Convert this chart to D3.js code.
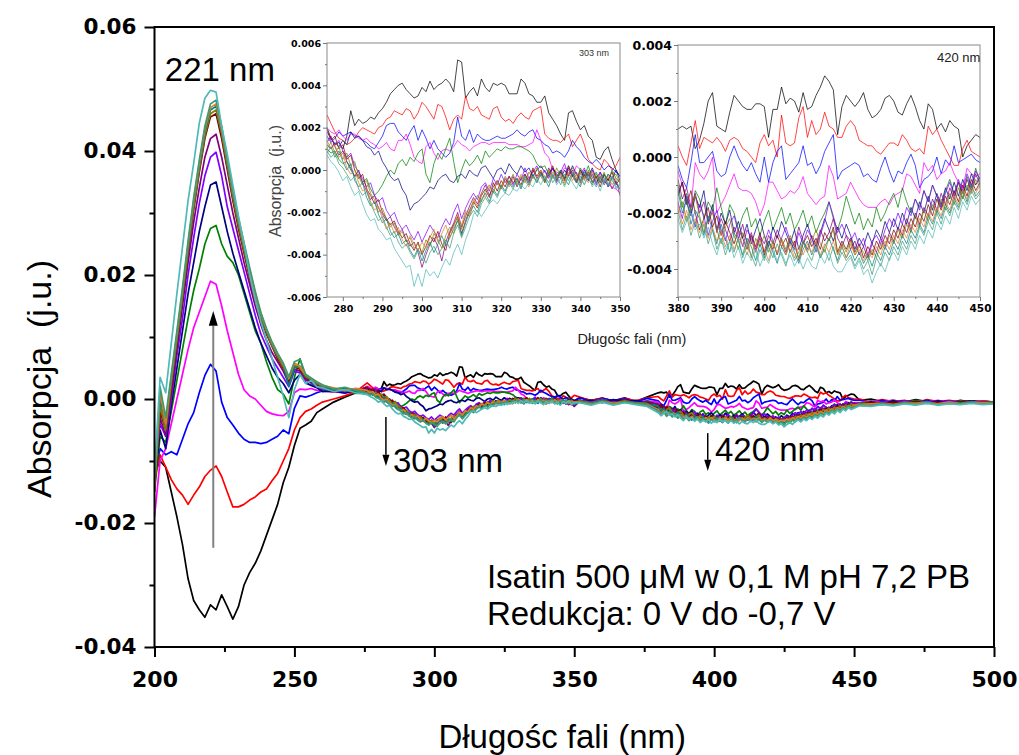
<!DOCTYPE html>
<html><head><meta charset="utf-8">
<script src="https://cdn.jsdelivr.net/npm/d3@7"></script>
<style>body{margin:0;background:#fff}svg{display:block}</style>
</head><body><svg id="c" width="1019" height="755"></svg>
<script>
// ---------- wavelength grid (nm) ----------
const wlA = [200,202,204,206,208,210,212,214,216,218,220,222,224,226,228,230,232,234,236,238,240,242,244,246,248,250,252,254,256,258,260,264,268,272];
const wl303 = d3.range(276, 351, 1);
const wlB = [352,356,360,364,368,372,376];
const wl420 = d3.range(380, 451, 1);
const wlC = [452,456,460,464,468,472,476,480,484,488,492,496,500];
const wavelengths = wlA.concat(wl303, wlB, wl420, wlC);

// ---------- absorbance values, in units of 0.001 (j.u.) ----------
const s01 = [ // black
 -12,-10,-11,-15,-19,-23.5,-29,-32.5,-34,-35.2, -33.2,-34,-31.6,-33.5,-35.5,-33.5,-30,-28,-26.5,-24.5, -22,-19.5,-17,-13.5,-11,-7.5,-4.7,-4.2,-3.6,-2.2, -1.6,-0.5,0.3,1.0,
 2.0,1.5,1.2,1.3,1.0,1.6,2.8,2.1,2.4,2.2, 2.3,2.5,2.4,2.7,2.9,3.2,3.6,3.8,4.0,4.1, 3.8,3.6,3.4,3.5,3.9,3.7,4.2,3.8,4.0,4.1,
 4.3,4.1,3.7,5.2,5.1,3.4,3.7,3.9,3.5,4.3, 3.9,3.7,4.1,4.0,4.1,4.0,3.6,3.6,3.6,4.3, 4.1,3.6,3.5,3.2,3.2,3.5,2.7,2.4,2.1,1.7,
 1.4,2.7,2.8,2.3,1.9,2.1,1.6,1.4,0.6,0.5, 0.9,1.1,0.5,0.0,-0.3,
 0.2,-0.2,0.1,-0.3,0.2,-0.4,0.3,
 1.0,1.1,1.0,1.1,0.3,0.6,1.2,2.0,2.3,1.1, 1.0,0.9,1.6,2.2,2.0,1.8,1.7,1.7,1.9,1.9, 1.8,0.7,1.7,1.7,2.5,1.9,2.1,2.0,1.6,2.3,
 1.7,1.8,2.2,2.5,2.9,2.7,2.4,0.8,1.8,2.2, 2.0,1.8,2.0,2.3,1.7,1.4,1.5,1.7,2.1,2.2, 2.0,1.6,1.5,1.9,2.2,1.8,1.3,1.0,1.9,1.7,
 1.0,1.2,0.9,1.3,1.1,1.0,0.0,0.4,0.6,0.8, 0.7,
 -0.2,0.0,-0.4,-0.2,-0.5,-0.1,-0.4,-0.3,-0.6,-0.2,-0.5,-0.3,-0.5];
const s02 = [ // red
 -13,-9,-11,-13,-14.5,-15.5,-17,-15.5,-14.2,-12.5, -11.5,-10.8,-12.5,-15,-17.4,-17.4,-17,-16.3,-15.8,-15, -14.5,-13.2,-12,-10,-8,-5,-3,-2,-1.6,-1, -0.5,0,0.5,1.2,
 2.6,2.2,1.8,1.5,1.4,1.2,1.3,1.5,1.8,2.0, 1.9,1.8,1.7,2.0,2.1,2.4,2.5,2.8,2.7,2.6, 2.9,2.8,2.4,2.7,3.2,3.0,2.7,2.4,3.1,3.0,
 2.5,1.9,2.4,2.6,2.4,3.5,2.9,2.8,3.0,2.6, 2.5,2.4,2.9,3.0,2.5,2.3,2.4,2.2,2.5,2.7, 2.5,2.4,2.8,2.9,3.0,1.7,1.5,1.4,1.4,1.3,
 1.5,1.7,1.1,1.4,1.7,1.2,0.5,0.3,0.1,0.0, 0.5,0.3,0.0,0.2,0.6,
 0.3,-0.3,0.2,-0.4,0.1,-0.3,0.2,
 0.4,0.0,-0.3,0.5,1.3,0.3,0.7,0.6,0.5,0.7, 0.5,0.2,0.6,0.7,0.6,0.3,0.2,0.0,-0.2,0.5, 0.8,0.4,0.6,0.0,1.5,0.5,0.4,0.5,1.4,1.8,
 0.7,1.3,0.8,1.0,1.6,1.1,1.0,0.7,0.7,1.1, 1.3,1.1,0.6,0.5,0.4,0.4,0.2,0.1,0.3,0.5, 0.5,0.4,0.8,0.6,0.3,0.2,0.3,0.1,1.1,0.8,
 1.0,0.6,0.3,0.0,-0.3,-0.3,0.3,0.6,0.2,0.1, 0.0,
 0.0,-0.5,-0.1,-0.4,-0.2,-0.6,-0.1,-0.4,-0.2,-0.5,-0.3,-0.4,-0.5];
const s03 = [ // blue
 -12,-8,-9,-8.5,-9,-6.5,-4,-2.2,1,3.8, 5.6,4.5,-0.5,-3,-4.2,-5.5,-6.5,-7,-7,-7.2, -7,-6.5,-6,-5,-5.6,-1.5,0.5,0.3,0.6,1.0, 1.3,1.2,1.0,1.3,
 1.6,1.3,1.5,1.8,1.6,1.7,1.8,1.6,1.6,1.4, 1.3,1.1,1.0,1.3,1.6,2.1,2.2,2.2,1.8,1.6, 1.4,1.8,2.1,1.4,1.9,1.5,1.0,1.4,1.0,0.8,
 0.6,0.8,1.3,2.5,1.6,1.4,1.9,1.3,1.7,1.5, 1.4,1.4,1.5,1.6,1.5,1.5,1.6,1.7,1.9,1.7, 1.6,1.8,1.9,1.5,1.4,1.2,1.1,0.8,0.9,0.8,
 0.6,0.9,1.4,1.1,0.9,0.6,0.4,0.3,0.5,0.3, 0.0,0.2,0.1,-0.1,-0.3,
 0.2,-0.4,0.1,-0.3,0.0,-0.5,0.1,
 -0.3,-0.8,-1.1,-0.2,0.8,-0.2,-0.2,0.0,0.2,-0.5, -0.7,-0.6,0.0,0.4,0.0,-0.3,-0.5,-0.2,-0.6,-0.9, 0.0,-0.9,-0.2,0.2,0.4,-0.8,-0.6,-0.4,-0.2,0.4,
 -0.3,-0.2,-0.6,-0.3,0.2,0.5,0.8,-0.8,-0.5,-0.4, -0.3,-0.2,-0.3,-0.7,-0.6,-0.8,-0.9,-0.4,0.0,-0.5, -0.9,-0.5,-0.6,-0.2,0.1,-0.3,-1.1,-0.8,-0.7,-0.5,
 0.0,-0.6,-0.1,-0.3,0.4,-0.2,-0.1,0.0,0.1,-0.1, -0.2,
 -0.2,-0.6,-0.2,-0.5,-0.3,-0.6,-0.2,-0.5,-0.3,-0.6,-0.3,-0.5,-0.6];
const s04 = [ // magenta
 -19,-10,-8,-4,0,4,8,11.5,14,16.5, 19,18.5,15,11,7.5,4,1.5,0.5,0,-1, -2,-2.4,-2.6,-2.7,-2,1,1.6,1.5,1.7,1.4, 1.3,1.1,1.2,1.0,
 2.0,1.8,1.7,1.9,1.6,1.4,1.7,1.7,1.5,1.4, 1.5,1.3,1.2,1.0,1.1,1.3,1.0,0.9,1.4,1.4, 1.7,1.2,0.6,0.4,0.3,1.1,1.3,0.8,0.5,0.9,
 1.0,0.9,1.1,1.4,1.2,1.1,0.9,1.1,1.2,1.3, 1.3,1.2,1.3,1.3,1.3,1.3,1.2,1.2,1.2,1.1, 1.1,1.2,1.3,1.9,1.4,0.8,0.6,0.0,-0.1,-0.2,
 0.1,0.0,-0.3,0.2,0.0,-0.3,-0.2,-0.5,-0.6,-0.4, -0.5,-0.7,-0.8,-0.9,-1.1,
 -0.3,-0.5,-0.1,-0.5,-0.2,-0.6,-0.3,
 -0.5,-1.0,-1.5,-1.8,-0.2,-0.6,-0.8,-0.5,0.0,-2.0, -1.7,-1.4,-1.0,-0.6,-1.1,-1.2,-1.2,-1.3,-1.6,-2.1, -1.7,-0.9,-0.9,-1.2,-1.5,-1.4,-1.2,-1.3,-1.1,-0.7,
 -1.3,-1.5,-1.7,-1.5,-1.4,-0.3,-0.7,-1.5,-1.4,-1.3, -0.9,-1.2,-1.5,-1.7,-1.8,-1.8,-1.8,-1.6,-1.5,-1.7, -1.4,-1.3,-1.2,-0.6,-0.7,-1.0,-1.3,-0.2,-0.5,-0.3,
 -0.8,-0.6,-0.5,-0.2,-0.6,-0.9,-1.1,-0.4,-0.6,-0.7, -0.6,
 -0.6,-0.3,-0.5,-0.2,-0.6,-0.3,-0.5,-0.2,-0.6,-0.4,-0.5,-0.3,-0.6];
const s05 = [ // green
 -15,-6,-7,-2,3,8,13,17.5,21,25, 27.5,28,25,23,22,20,17,14,11,9, 6,3.5,1.5,0.8,-0.8,3.5,6.5,3.5,2.5,2.0, 1.4,1.2,1.5,0.9,
 1.0,0.8,0.9,0.5,0.3,0.4,0.0,-0.3,-0.2,-0.6, -0.4,-0.9,-1.2,-1.0,-0.7,-0.3,0.0,-0.2,0.3,0.5, 0.2,0.6,0.4,0.8,1.0,-0.2,-0.6,0.3,0.8,0.5,
 1.0,1.5,0.4,-0.6,0.0,0.5,0.2,0.4,0.7,0.3, 0.9,0.6,0.8,1.0,0.9,1.1,1.0,1.0,1.1,1.1, 1.0,0.9,0.7,0.3,0.1,0.2,-0.2,0.1,-0.3,0.0,
 -0.4,0.2,-0.2,-0.5,0.1,-0.3,0.2,-0.4,-0.1,-0.6, -0.2,-0.5,0.0,-0.4,-0.6,
 -0.2,-0.5,0.0,-0.6,-0.2,-0.8,-0.3,
 -1.0,-1.8,-1.3,-2.0,-1.2,-1.5,-2.2,-1.6,-1.9,-1.1, -1.8,-2.4,-1.7,-2.0,-2.6,-2.1,-1.8,-2.5,-2.2,-2.8, -2.3,-1.9,-2.6,-2.2,-1.8,-2.4,-2.0,-2.6,-2.3,-1.9,
 -2.5,-2.1,-2.7,-2.3,-2.0,-1.6,-2.2,-2.6,-2.1,-1.4, -1.9,-2.4,-2.0,-2.6,-2.2,-2.5,-1.8,-2.3,-2.0,-1.6, -1.3,-1.8,-1.1,-1.6,-2.0,-1.5,-1.8,-1.2,-1.6,-1.0,
 -1.4,-1.8,-1.2,-0.8,-1.3,-0.9,-1.5,-0.7,-1.1,-0.4, -0.9,
 -0.7,-0.4,-0.7,-0.3,-0.6,-0.2,-0.6,-0.4,-0.7,-0.3,-0.6,-0.4,-0.6];
const s06 = [ // navy
 -14,-5,-8,-1,5,11,17,22,27,31, 34.5,35,31,27,23.5,20.5,17.5,14.5,11.5,9, 7,5,3.5,2.5,1.0,3.0,4.0,2.6,2.2,1.8, 1.2,1.3,1.0,1.4,
 1.2,1.0,1.3,1.1,1.4,1.2,1.8,1.5,1.6,1.4, 1.1,1.0,0.7,0.9,0.4,0.1,-0.3,-0.5,-0.4,-0.9, -1.2,-1.9,-1.6,-1.5,-1.3,-1.1,-0.8,-0.9,-0.5,-0.3,
 -0.2,-0.5,-0.6,-0.3,-0.2,-0.4,0.0,-0.2,-0.3,0.1, 0.2,-0.1,-0.4,0.0,0.1,-0.2,0.3,0.0,-0.2,0.2, -0.1,0.1,-0.3,0.0,0.2,-0.1,-0.3,0.1,-0.2,-0.4,
 0.0,-0.3,0.2,-0.2,-0.5,0.0,-0.3,0.1,-0.4,-0.1, -0.6,-0.2,-0.4,0.0,-0.5,
 -0.5,-0.2,-0.6,-0.1,-0.5,-0.2,-0.7,
 -1.3,-0.9,-1.6,-2.1,-1.4,-1.8,-1.2,-2.3,-1.7,-2.6, -2.0,-2.4,-1.9,-2.7,-2.3,-2.9,-2.4,-3.1,-2.6,-2.2, -2.8,-3.2,-2.5,-2.9,-2.3,-2.7,-3.1,-2.6,-3.3,-2.8,
 -2.4,-2.9,-3.2,-2.7,-2.2,-2.6,-3.0,-2.5,-2.9,-2.4, -2.8,-3.3,-2.9,-3.2,-2.7,-3.1,-2.6,-2.9,-2.3,-2.7, -2.2,-2.6,-2.0,-2.4,-1.8,-2.2,-1.6,-2.0,-1.4,-1.9,
 -1.3,-1.7,-1.1,-1.5,-0.9,-1.4,-0.8,-1.2,-0.6,-1.0, -0.7,
 -1.0,-0.5,-0.8,-0.3,-0.7,-0.4,-0.6,-0.3,-0.6,-0.5,-0.3,-0.6,-0.4];
const s07 = [ // violet
 -12,-4,-6,0,7,13,20,26,31.5,36, 39,39.8,36,31,27.5,24,20.5,17,13.5,10.5, 8.5,6.5,5,3.5,2.0,4.5,4.2,3.0,2.7,2.0, 1.6,1.5,1.2,1.6,
 1.8,1.5,1.2,1.4,0.9,0.6,0.8,0.2,-0.1,-0.4, -0.8,-0.6,-1.2,-1.5,-1.3,-1.9,-2.2,-2.0,-2.5,-2.8, -2.6,-3.0,-3.3,-2.9,-3.4,-3.0,-2.6,-2.9,-3.2,-2.7,
 -2.3,-2.6,-2.0,-1.6,-2.3,-1.8,-1.4,-1.1,-1.4,-0.8, -0.6,-1.0,-0.4,-0.7,-0.2,-0.6,-0.3,-0.7,-0.2,-0.5, 0.1,-0.4,-0.1,0.2,-0.3,0.0,-0.4,0.1,-0.5,-0.1,
 0.3,-0.3,0.0,-0.6,-0.2,0.1,-0.5,-0.2,-0.7,-0.1, -0.4,-0.8,-0.3,-0.6,-0.9,
 -0.2,-0.5,-0.1,-0.6,-0.3,-0.7,-0.4,
 -1.6,-2.2,-1.4,-1.9,-2.5,-1.7,-2.1,-2.8,-2.3,-1.9, -2.6,-3.0,-2.4,-2.1,-2.7,-3.2,-2.6,-2.9,-3.4,-2.8, -3.1,-2.6,-3.0,-3.5,-2.9,-2.5,-3.0,-3.3,-2.7,-3.1,
 -2.6,-2.9,-3.4,-2.8,-2.3,-1.6,-2.1,-2.7,-2.4,-2.8, -3.0,-2.7,-3.2,-2.9,-3.5,-3.0,-2.8,-3.1,-2.6,-2.2, -2.5,-2.0,-2.4,-1.8,-2.1,-1.5,-1.9,-1.2,-1.6,-1.0,
 -1.4,-1.8,-1.3,-0.9,-1.4,-0.8,-1.2,-0.6,-1.0,-0.5, -0.8,
 -0.6,-0.9,-0.4,-0.7,-0.3,-0.6,-0.4,-0.7,-0.3,-0.5,-0.4,-0.6,-0.5];
const s08 = [ // purple
 -13,-3,-6,1,8,15,22,28.5,34,39, 42,42.7,39,34.5,30,26,22,18.5,15,12, 9.5,7.5,6,4.5,2.5,4.8,4.5,3.2,2.8,2.2, 1.8,1.6,1.3,1.5,
 1.3,1.6,1.1,0.7,0.9,0.4,0.1,-0.3,0.0,-0.6, -1.0,-1.4,-1.2,-1.8,-2.1,-2.4,-2.2,-2.7,-3.0,-2.8, -3.3,-3.6,-3.4,-3.9,-4.6,-4.0,-3.5,-3.2,-3.6,-4.3,
 -3.4,-2.9,-2.5,-2.0,-2.7,-2.2,-1.7,-1.3,-1.6,-1.1, -0.7,-1.2,-0.8,-0.5,-0.9,-0.4,-0.7,-0.3,-0.8,-0.4, -0.2,-0.6,0.0,-0.4,-0.1,-0.5,0.1,-0.3,-0.6,0.0,
 -0.4,0.2,-0.3,-0.1,-0.6,-0.2,-0.5,0.0,-0.6,-0.3, -0.7,-0.4,-0.9,-0.5,-1.2,
 -0.3,-0.6,-0.2,-0.7,-0.4,-0.8,-0.5,
 -0.8,-1.5,-1.1,-1.8,-1.3,-2.0,-1.6,-2.4,-1.9,-2.7, -2.2,-2.6,-3.0,-2.5,-2.9,-2.4,-3.1,-2.7,-3.3,-2.9, -3.4,-2.8,-3.1,-2.6,-3.0,-3.4,-2.9,-3.2,-2.5,-3.0,
 -3.3,-2.8,-3.1,-2.6,-3.0,-2.7,-2.2,-2.9,-3.2,-2.8, -3.3,-3.0,-3.5,-3.2,-3.6,-3.1,-3.4,-2.9,-3.2,-2.7, -3.0,-2.5,-2.8,-2.2,-2.6,-2.0,-2.4,-1.8,-2.1,-1.5,
 -1.9,-1.3,-1.7,-1.1,-1.5,-0.9,-1.3,-0.8,-1.2,-0.6, -1.0,
 -0.7,-0.9,-0.5,-0.8,-0.4,-0.7,-0.5,-0.8,-0.4,-0.6,-0.5,-0.7,-0.5];
const s09 = [ // wine
 -14,-2,-5,2,9,16,23.5,30.5,36.5,42, 45.5,46,42,37,32,27.5,23.5,19.5,16,13, 10.5,8.5,6.5,5,3,5.2,4.8,3.5,3.0,2.3, 1.9,1.4,1.6,1.2,
 1.9,1.4,1.6,1.0,1.2,0.5,0.7,0.0,-0.4,-0.2, -0.9,-1.2,-1.6,-1.4,-2.0,-2.3,-2.6,-2.4,-2.9,-3.2, -3.0,-3.5,-3.8,-3.4,-4.0,-3.6,-3.1,-3.4,-2.9,-3.5,
 -3.8,-3.0,-2.6,-2.2,-3.0,-2.4,-1.9,-1.5,-1.8,-1.2, -0.9,-1.3,-0.6,-1.0,-0.5,-0.8,-0.3,-0.6,-0.4,-0.7, -0.2,-0.5,0.1,-0.3,0.0,-0.6,-0.2,0.2,-0.4,-0.1,
 -0.5,0.1,-0.3,-0.6,0.0,-0.4,-0.1,-0.6,-0.3,-0.8, -0.2,-0.5,-0.1,-0.7,-0.4,
 -0.2,-0.7,-0.3,-0.6,-0.2,-0.7,-0.6,
 -1.4,-0.9,-1.7,-1.2,-2.0,-2.6,-2.2,-1.8,-2.5,-2.1, -2.8,-2.3,-2.7,-3.1,-2.6,-2.9,-3.3,-2.8,-3.2,-2.7, -3.5,-3.0,-3.3,-2.8,-3.2,-2.9,-3.4,-3.0,-3.7,-3.1,
 -2.8,-3.2,-2.9,-3.3,-2.7,-3.0,-2.5,-3.4,-3.0,-3.3, -2.9,-3.4,-3.1,-3.6,-3.2,-3.5,-3.0,-3.3,-2.8,-3.1, -2.6,-2.9,-2.4,-2.7,-2.2,-2.5,-2.0,-2.3,-1.7,-2.1,
 -1.5,-1.9,-1.4,-1.7,-1.2,-1.6,-1.0,-1.4,-0.8,-1.2, -0.9,
 -0.8,-0.6,-0.9,-0.5,-0.8,-0.4,-0.7,-0.5,-0.8,-0.5,-0.6,-0.4,-0.6];
const s10 = [ // olive
 -15,-1,-5,2.5,9.5,16.5,24,31,37,42.5, 46,46.6,42.8,37.6,32.6,28,24,20,16.3,13.2, 10.8,8.6,6.8,5.2,3.2,5.5,5.0,3.6,3.1,2.5, 2.0,1.7,1.3,1.6,
 1.0,1.3,0.8,1.1,0.5,0.8,0.2,0.4,-0.3,-0.7, -0.5,-1.1,-1.4,-2.0,-1.8,-2.3,-2.7,-2.5,-3.1,-2.9, -3.4,-3.2,-3.7,-3.5,-3.9,-3.3,-3.6,-3.0,-3.3,-3.7,
 -3.1,-2.7,-3.0,-2.3,-2.8,-2.0,-2.2,-1.6,-1.2,-1.5, -1.0,-0.7,-1.1,-0.5,-0.8,-0.3,-0.6,-0.2,-0.7,-0.3, -0.6,-0.1,-0.4,0.1,-0.3,-0.6,0.0,-0.4,0.1,-0.3,
 -0.7,-0.2,0.1,-0.4,-0.1,-0.5,0.0,-0.6,-0.2,-0.5, -0.1,-0.7,-0.3,-0.2,-0.6,
 -0.3,-0.6,-0.2,-0.7,-0.3,-0.6,-0.7,
 -2.0,-1.6,-2.3,-1.8,-1.4,-2.1,-2.7,-2.2,-2.0,-2.6, -3.1,-2.5,-2.2,-2.8,-3.3,-2.7,-3.0,-3.6,-2.9,-3.2, -2.8,-3.4,-3.0,-3.5,-2.9,-3.3,-2.8,-3.2,-3.6,-3.0,
 -3.4,-3.0,-2.6,-3.1,-3.4,-2.9,-2.6,-3.5,-3.1,-3.4, -3.0,-3.5,-3.2,-3.4,-3.7,-3.3,-3.6,-3.1,-3.3,-2.8, -3.1,-2.6,-2.9,-2.4,-2.7,-2.1,-2.5,-1.9,-2.3,-1.7,
 -2.0,-1.5,-1.9,-1.3,-1.7,-1.1,-1.5,-1.0,-1.3,-0.8, -1.1,
 -0.7,-0.8,-0.6,-0.9,-0.5,-0.7,-0.4,-0.8,-0.5,-0.7,-0.4,-0.6,-0.5];
const s11 = [ // dark cyan
 -13,0,-4,3,10,17,24.5,31.5,37.5,43, 46.6,47.2,43.2,38,33,28.5,24.5,20.5,16.8,13.6, 11,8.8,7,5.5,2.0,5.0,5.3,3.8,3.2,2.6, 2.1,1.5,1.8,1.3,
 0.8,1.1,0.6,0.9,0.4,0.0,0.3,-0.5,-0.8,-0.6, -1.3,-1.7,-1.5,-2.1,-2.5,-2.3,-2.9,-3.2,-3.0,-3.5, -3.3,-3.8,-4.1,-3.7,-4.3,-3.8,-3.4,-3.9,-3.5,-3.1,
 -3.6,-3.2,-2.8,-2.4,-3.1,-2.5,-2.0,-1.7,-2.0,-1.4, -1.1,-1.5,-0.9,-1.2,-0.7,-1.0,-0.5,-0.8,-0.4,-0.9, -0.3,-0.7,-0.2,-0.6,-0.1,-0.4,-0.8,-0.2,-0.5,0.0,
 -0.4,-0.7,-0.2,-0.5,-0.8,-0.1,-0.4,-0.7,-0.3,-0.6, -0.2,-0.8,-0.4,-0.6,-0.9,
 -0.4,-0.7,-0.3,-0.8,-0.4,-0.7,-0.8,
 -1.2,-2.0,-1.5,-2.4,-1.9,-2.2,-2.8,-2.1,-2.6,-3.1, -2.4,-2.9,-3.4,-2.7,-3.0,-3.5,-2.9,-3.2,-3.7,-3.1, -3.6,-3.0,-3.4,-3.8,-3.2,-3.5,-3.0,-3.4,-3.8,-3.3,
 -3.0,-3.5,-3.1,-3.6,-3.2,-2.9,-3.3,-3.7,-3.2,-3.6, -3.3,-3.7,-3.4,-3.8,-3.5,-3.9,-3.4,-3.7,-3.2,-3.5, -3.0,-3.3,-2.8,-3.1,-2.6,-2.9,-2.4,-2.7,-2.1,-2.4,
 -1.9,-2.2,-1.7,-2.0,-1.5,-1.8,-1.2,-1.6,-1.0,-1.4, -1.2,
 -0.9,-1.0,-0.7,-1.0,-0.6,-0.8,-0.5,-0.9,-0.6,-0.8,-0.5,-0.7,-0.6];
const s12 = [ // orange
 -14,1,-4,3.5,10.5,17.5,25,32,38,43.5, 47,47.6,43.5,38.4,33.4,28.8,24.8,20.8,17,13.8, 11.2,9.0,7.2,5.6,3.4,5.8,5.2,3.9,3.3,2.7, 2.2,1.8,1.4,1.7,
 1.4,1.0,1.2,0.6,0.8,0.1,-0.2,0.0,-0.6,-1.0, -0.8,-1.5,-1.9,-1.7,-2.3,-2.8,-2.5,-3.0,-2.7,-3.3, -3.6,-3.1,-3.5,-3.8,-3.4,-3.7,-3.2,-2.8,-3.4,-3.0,
 -2.6,-3.2,-2.7,-2.1,-2.6,-1.9,-2.1,-1.4,-1.7,-1.1, -1.3,-0.8,-1.0,-0.6,-0.9,-0.5,-0.8,-0.4,-0.6,-0.2, -0.5,-0.8,-0.3,-0.5,0.0,-0.3,-0.6,-0.1,-0.4,-0.2,
 -0.6,-0.1,-0.5,-0.2,-0.7,-0.3,-0.6,-0.1,-0.5,-0.2, -0.6,-0.3,-0.7,-0.4,-0.5,
 -0.5,-0.8,-0.4,-0.7,-0.5,-0.8,-0.9,
 -1.7,-2.4,-1.9,-2.6,-2.2,-2.7,-2.3,-2.9,-2.5,-3.0, -2.7,-3.2,-2.8,-3.3,-2.9,-3.1,-3.5,-3.0,-3.4,-3.0, -3.3,-3.7,-3.1,-3.4,-3.0,-3.5,-3.1,-3.6,-3.2,-3.5,
 -3.1,-3.4,-3.0,-3.5,-3.1,-3.4,-3.0,-3.5,-3.2,-3.6, -3.1,-3.5,-3.3,-3.7,-3.4,-3.6,-3.2,-3.5,-3.0,-3.3, -2.8,-3.1,-2.6,-2.9,-2.4,-2.7,-2.2,-2.5,-2.0,-2.3,
 -1.8,-2.1,-1.6,-1.9,-1.4,-1.7,-1.2,-1.5,-1.1,-1.3, -1.0,
 -1.0,-0.8,-0.8,-0.9,-0.7,-0.7,-0.6,-0.8,-0.5,-0.8,-0.6,-0.6,-0.7];
const s13 = [ // sea green
 -13,2,-3,4,11,18,25.5,32.5,38.5,44, 47.6,48.2,44,38.8,33.8,29.2,25.2,21.2,17.4,14, 11.4,9.2,7.4,5.8,3.6,6.0,6.4,4.0,3.4,2.8, 2.3,1.6,1.9,1.4,
 0.9,0.6,0.8,0.3,0.1,-0.2,-0.5,-0.3,-0.9,-1.2, -1.0,-1.6,-2.0,-2.4,-2.2,-2.7,-3.1,-2.9,-3.4,-3.7, -3.5,-3.9,-4.2,-3.8,-4.0,-4.4,-3.9,-3.6,-4.0,-3.7,
 -3.3,-3.7,-3.0,-2.6,-3.2,-2.7,-2.2,-1.9,-2.2,-1.6, -1.3,-1.6,-1.0,-1.3,-0.8,-1.1,-0.6,-0.9,-0.5,-0.8, -0.4,-0.7,-0.3,-0.6,-0.2,-0.5,-0.1,-0.6,-0.3,-0.7,
 -0.2,-0.5,-0.1,-0.6,-0.3,-0.7,-0.2,-0.5,-0.8,-0.3, -0.6,-0.2,-0.5,-0.8,-0.7,
 -0.5,-0.9,-0.4,-0.9,-0.5,-0.8,-1.0,
 -1.9,-2.6,-2.1,-2.8,-2.3,-2.9,-2.4,-3.1,-2.6,-3.3, -2.9,-3.5,-3.0,-3.4,-2.9,-3.6,-3.1,-3.5,-3.9,-3.3, -3.7,-3.2,-3.6,-3.1,-3.5,-3.9,-3.3,-3.7,-3.4,-3.0,
 -3.4,-3.7,-3.2,-3.6,-3.3,-3.7,-3.2,-3.8,-3.4,-3.7, -3.5,-3.9,-3.6,-4.0,-3.7,-4.2,-3.6,-3.9,-3.4,-3.7, -3.2,-3.5,-3.0,-3.3,-2.8,-3.1,-2.5,-2.8,-2.3,-2.6,
 -2.0,-2.4,-1.8,-2.1,-1.6,-1.9,-1.4,-1.7,-1.2,-1.5, -1.3,
 -1.0,-1.1,-0.8,-1.0,-0.7,-0.9,-0.6,-0.9,-0.7,-0.8,-0.6,-0.8,-0.7];
const s14 = [ // light teal
 -12,3.5,1,9,17,24.5,32,38,44.5,48.5, 49.8,49.5,44,39.5,34.5,29.5,25,20,16,12.5, 9.5,6.5,3.5,0.5,-3.0,1.5,4.0,2.5,3.0,2.0, 1.8,1.2,1.5,1.0,
 0.7,0.4,0.2,-0.1,-0.5,-0.3,-0.8,-1.2,-1.0,-1.6, -2.1,-2.4,-2.3,-2.8,-3.0,-3.3,-3.2,-3.7,-4.0,-4.3, -4.6,-4.5,-5.5,-4.9,-5.5,-4.7,-5.0,-4.8,-5.1,-4.6,
 -4.2,-4.5,-3.9,-3.5,-4.0,-3.3,-2.8,-2.1,-1.9,-2.2, -1.9,-1.6,-1.4,-1.6,-1.3,-1.1,-1.2,-0.9,-1.0,-0.7, -0.9,-0.6,-0.8,-0.4,-0.7,-0.3,-0.6,-0.2,-0.7,-0.4,
 -0.8,-0.3,-0.6,-0.9,-0.4,-0.7,-0.3,-0.8,-0.5,-1.0, -0.4,-0.7,-0.3,-0.9,-0.6,
 -0.6,-1.0,-0.5,-1.0,-0.6,-0.9,-1.2,
 -2.2,-2.7,-2.3,-2.0,-2.6,-2.4,-2.9,-2.5,-3.1,-3.5, -2.9,-3.3,-3.0,-3.6,-3.2,-3.8,-3.4,-3.7,-3.3,-3.9, -3.5,-3.8,-3.3,-3.7,-3.4,-3.8,-3.5,-3.9,-3.6,-4.0,
 -3.6,-3.9,-4.0,-3.5,-3.8,-3.4,-3.9,-4.1,-4.1,-3.8, -3.6,-4.0,-3.7,-4.2,-4.0,-4.5,-4.1,-3.8,-4.1,-3.6, -3.4,-3.7,-3.2,-3.5,-3.0,-3.3,-2.8,-3.1,-2.6,-2.9,
 -2.3,-2.6,-2.1,-2.4,-1.8,-2.2,-1.6,-1.9,-1.4,-1.7, -1.5,
 -1.1,-1.2,-0.9,-1.1,-0.8,-1.0,-0.7,-1.0,-0.8,-0.9,-0.7,-0.9,-0.8];

const seriesValues = [s01,s02,s03,s04,s05,s06,s07,s08,s09,s10,s11,s12,s13,s14];
const seriesColors = ["#000000","#ff0000","#0000ff","#ff00ff","#008000","#000080","#7f00ff","#800080","#800000","#808000","#008080","#e07b28","#3d9970","#4fb8b8"];

// ---------- axis ticks / labels ----------
const xTicks = [200,250,300,350,400,450,500];
const xMinor = [225,275,325,375,425,475];
const yTicks = [-0.04,-0.02,0,0.02,0.04,0.06];
const yTickLabels = ["-0.04","-0.02","0.00","0.02","0.04","0.06"];
const yMinor = [-0.03,-0.01,0.01,0.03,0.05];
const in1XTicks = [280,290,300,310,320,330,340,350];
const in1XMinor = [285,295,305,315,325,335,345];
const in1YTicks = [-0.006,-0.004,-0.002,0,0.002,0.004,0.006];
const in1YLabels = ["-0.006","-0.004","-0.002","0.000","0.002","0.004","0.006"];
const in1YMinor = [-0.005,-0.003,-0.001,0.001,0.003,0.005];
const in2XTicks = [380,390,400,410,420,430,440,450];
const in2XMinor = [385,395,405,415,425,435,445];
const in2YTicks = [-0.004,-0.002,0,0.002,0.004];
const in2YLabels = ["-0.004","-0.002","0.000","0.002","0.004"];
const in2YMinor = [-0.005,-0.003,-0.001,0.001,0.003];

// ---------- drawing ----------
const svg = d3.select("#c");
const X0=154.5, X1=994, Y0=647, Y1=27;
const x = d3.scaleLinear().domain([200,500]).range([X0,X1]);
const y = d3.scaleLinear().domain([-0.04,0.06]).range([Y0,Y1]);

const series = seriesValues.map((v,i)=>{
  if (v.length !== wavelengths.length) console.warn("series", i+1, "length", v.length);
  const n = Math.min(v.length, wavelengths.length);
  return {color: seriesColors[i], pts: d3.range(n).map(k=>[wavelengths[k], v[k]/1000])};
});

const defs = svg.append("defs");
function clip(id,x0,y0,w,h){defs.append("clipPath").attr("id",id).append("rect").attr("x",x0).attr("y",y0).attr("width",w).attr("height",h);}
clip("cm",X0,Y1,X1-X0,Y0-Y1);

const gMain = svg.append("g").attr("clip-path","url(#cm)");
const lineMain = d3.line().x(d=>x(d[0])).y(d=>y(d[1]));
series.forEach(s=>gMain.append("path").attr("d",lineMain(s.pts)).attr("fill","none")
  .attr("stroke",s.color).attr("stroke-width",1.7).attr("stroke-linejoin","round"));

// frame
svg.append("rect").attr("x",X0).attr("y",Y1).attr("width",X1-X0).attr("height",Y0-Y1)
  .attr("fill","none").attr("stroke","#000").attr("stroke-width",2);

function styleAxis(g, fs, family, color, lw){
  g.select(".domain").remove();
  g.selectAll("line").attr("stroke",color).attr("stroke-width",lw);
  g.selectAll("text").attr("font-family",family).attr("font-weight","bold").attr("font-size",fs).attr("fill","#000");
}
const TF = "DejaVu Sans";
svg.append("g").attr("transform",`translate(${X0},0)`)
  .call(d3.axisLeft(y).tickValues(yTicks).tickFormat((d,i)=>yTickLabels[i]).tickSize(10).tickPadding(8))
  .call(g=>styleAxis(g,21.5,TF,"#000",2));
svg.append("g").attr("transform",`translate(${X0},0)`)
  .call(d3.axisLeft(y).tickValues(yMinor).tickFormat("").tickSize(5))
  .call(g=>styleAxis(g,10,TF,"#000",2));
svg.append("g").attr("transform",`translate(0,${Y0})`)
  .call(d3.axisBottom(x).tickValues(xTicks).tickFormat(d=>String(d)).tickSize(10).tickPadding(14))
  .call(g=>styleAxis(g,22,TF,"#000",2));
svg.append("g").attr("transform",`translate(0,${Y0})`)
  .call(d3.axisBottom(x).tickValues(xMinor).tickFormat("").tickSize(5))
  .call(g=>styleAxis(g,10,TF,"#000",2));

const LF = "Liberation Sans, Arial, sans-serif";
svg.append("text").attr("transform",`translate(51,379) rotate(-90)`).attr("text-anchor","middle")
  .attr("font-family",LF).attr("font-size",34).style("white-space","pre").text("Absorpcja  (j.u.)");
svg.append("text").attr("x",(X0+X1)/2-12).attr("y",748).attr("text-anchor","middle")
  .attr("font-family",LF).attr("font-size",33).text("Długośc fali (nm)");

// annotations (anchored in data coordinates)
const notes = [
  {t:"221 nm", w:203.7, a:0.0513},
  {t:"303 nm", w:285.2, a:-0.0118},
  {t:"420 nm", w:400.3, a:-0.0100},
  {t:"Isatin 500 \u03bcM w 0,1 M pH 7,2 PB", w:318.8, a:-0.0305},
  {t:"Redukcja: 0 V do -0,7 V", w:318.8, a:-0.0365}
];
notes.forEach(n=>svg.append("text").attr("x",x(n.w)).attr("y",y(n.a)).attr("font-family",LF)
  .attr("font-size",33).attr("fill","#000").text(n.t));

// arrows
function arrow(w, aFrom, aBase, aTip, lineColor, lw, hw){
  svg.append("line").attr("x1",x(w)).attr("x2",x(w)).attr("y1",y(aFrom)).attr("y2",y(aBase))
    .attr("stroke",lineColor).attr("stroke-width",lw);
  svg.append("path").attr("d",`M${x(w)},${y(aTip)} L${x(w)-hw},${y(aBase)} L${x(w)+hw},${y(aBase)} Z`).attr("fill","#000");
}
arrow(221, -0.0240, 0.0118, 0.0142, "#808080", 2, 4.5);
arrow(282.7, -0.0029, -0.0090, -0.0108, "#000", 1.5, 3.5);
arrow(397.7, -0.0055, -0.0098, -0.0116, "#000", 1.5, 3.5);

// ---------- insets ----------
function inset(id, xd, xr, yd, yr, xt, xm, yt, yl, ym, fsx, fsy){
  const xs = d3.scaleLinear().domain(xd).range(xr);
  const ys = d3.scaleLinear().domain(yd).range(yr);
  svg.append("rect").attr("x",xr[0]).attr("y",yr[1]).attr("width",xr[1]-xr[0]).attr("height",yr[0]-yr[1]).attr("fill","#fff");
  clip(id, xr[0], yr[1], xr[1]-xr[0], yr[0]-yr[1]);
  const g = svg.append("g").attr("clip-path",`url(#${id})`);
  const ln = d3.line().x(d=>xs(d[0])).y(d=>ys(d[1]));
  series.forEach(s=>g.append("path").attr("d",ln(s.pts.filter(p=>p[0]>=xd[0]-5&&p[0]<=xd[1]+5)))
    .attr("fill","none").attr("stroke",s.color).attr("stroke-width",1).attr("stroke-opacity",0.72).attr("stroke-linejoin","round"));
  svg.append("rect").attr("x",xr[0]).attr("y",yr[1]).attr("width",xr[1]-xr[0]).attr("height",yr[0]-yr[1])
    .attr("fill","none").attr("stroke","#8a8a8a").attr("stroke-width",1);
  svg.append("g").attr("transform",`translate(0,${yr[0]})`)
    .call(d3.axisBottom(xs).tickValues(xt).tickFormat(d=>String(d)).tickSize(4).tickPadding(4))
    .call(g=>styleAxis(g,fsx,TF,"#777",1));
  svg.append("g").attr("transform",`translate(0,${yr[0]})`)
    .call(d3.axisBottom(xs).tickValues(xm).tickFormat("").tickSize(2)).call(g=>styleAxis(g,8,TF,"#777",1));
  svg.append("g").attr("transform",`translate(${xr[0]},0)`)
    .call(d3.axisLeft(ys).tickValues(yt).tickFormat((d,i)=>yl[i]).tickSize(4).tickPadding(2))
    .call(g=>styleAxis(g,fsy,TF,"#777",1));
  svg.append("g").attr("transform",`translate(${xr[0]},0)`)
    .call(d3.axisLeft(ys).tickValues(ym).tickFormat("").tickSize(2)).call(g=>styleAxis(g,8,TF,"#777",1));
}
inset("ci1",[276,350],[327,620],[-0.006,0.006],[297,43],in1XTicks,in1XMinor,in1YTicks,in1YLabels,in1YMinor,9.5,9.5);
inset("ci2",[380,450],[678,980],[-0.005,0.004],[297,45],in2XTicks,in2XMinor,in2YTicks,in2YLabels,in2YMinor,10.5,12.5);

svg.append("text").attr("x",579).attr("y",56).attr("font-family",LF).attr("font-size",9).attr("fill","#333").text("303 nm");
svg.append("text").attr("x",937).attr("y",62).attr("font-family",LF).attr("font-size",13).attr("fill","#222").text("420 nm");
svg.append("text").attr("transform","translate(281,181) rotate(-90)").attr("text-anchor","middle")
  .attr("font-family",LF).attr("font-size",16).attr("fill","#444").style("white-space","pre").text("Absorpcja  (j.u.)");
svg.append("text").attr("x",632).attr("y",344).attr("text-anchor","middle")
  .attr("font-family",LF).attr("font-size",14.5).attr("fill","#222").text("Długośc fali (nm)");
</script></body></html>
